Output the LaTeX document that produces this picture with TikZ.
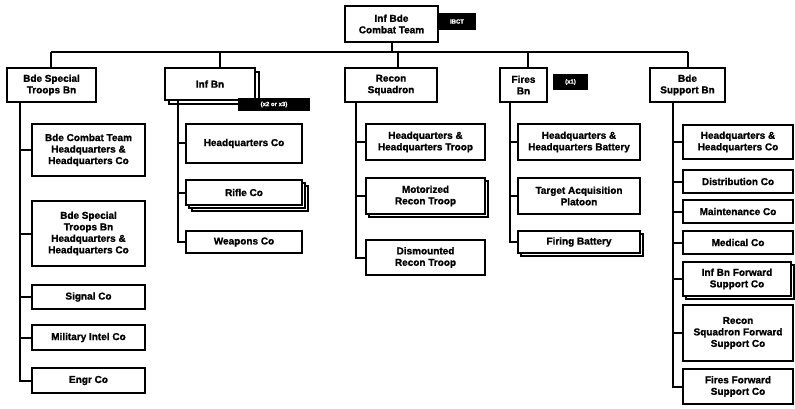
\documentclass[tikz,border=0pt]{standalone}
\usepackage{fontspec}
\setmainfont{Liberation Sans}[BoldFeatures={FakeBold=1.2}]
\newcommand{\bx}[7][]{%
  \node[box,#1,minimum width={#5-#3},minimum height={#6-#4}] (#2) at ({(#3+#5)/2},{(#4+#6)/2}) {#7};}
\newcommand{\shadowbx}[6]{%
  \node[box,minimum width={#4-#2},minimum height={#5-#3}] (#1) at ({(#2+#4)/2+#6},{(#3+#5)/2+#6}) {};}
\begin{document}
\begin{tikzpicture}[x=1pt,y=-1pt,
  box/.style={draw,line width=1.8pt,fill=white,align=center,inner sep=1pt,
    font=\bfseries\fontsize{10}{11.5}\selectfont},
  tag/.style={fill=black,text=white,inner sep=0pt,font=\bfseries\fontsize{6}{7}\selectfont},
  conn/.style={line width=2pt}]
\useasboundingbox (0,0) rectangle (795,409);
% top
\bx{top}{345}{6}{438}{42}{Inf Bde\\Combat Team}
\node[tag,minimum width=37,minimum height=17] (toptag) at (457,21.5) {IBCT};
\coordinate (busL) at (51,52);
\coordinate (busR) at (688,52);
\draw[conn] (busL) -- (busR);
\draw[conn] (top.south) -- (top.south |- busL);
% level 1
\bx{bstb}{7}{68}{96}{102}{Bde Special\\Troops Bn}
\shadowbx{infbnsh}{165}{68}{255}{100}{4}
\bx{infbn}{165}{68}{255}{100}{Inf Bn}
\node[tag,minimum width=72,minimum height=13] (infbntag) at (274,104.5) {(x2 or x3)};
\bx{recon}{345}{68}{437}{102}{Recon\\Squadron}
\bx{fires}{500}{68}{547}{102}{Fires\\Bn}
\node[tag,minimum width=35,minimum height=16] (firestag) at (570.5,82) {(x1)};
\bx{bsb}{650}{68}{725}{102}{Bde\\Support Bn}
\coordinate (d2) at (220,52);
\coordinate (d3) at (398,52);
\coordinate (d4) at (528,52);
\draw[conn] (busL) -- (busL |- bstb.north);
\draw[conn] (d2) -- (d2 |- infbn.north);
\draw[conn] (d3) -- (d3 |- recon.north);
\draw[conn] (d4) -- (d4 |- fires.north);
\draw[conn] (busR) -- (busR |- bsb.north);
% column 1
\bx{a1}{32}{124}{145}{176}{Bde Combat Team\\Headquarters \&\\Headquarters Co}
\bx{a2}{32}{201}{145}{266}{Bde Special\\Troops Bn\\Headquarters \&\\Headquarters Co}
\bx{a3}{32}{285}{145}{309}{Signal Co}
\bx{a4}{32}{325}{145}{350}{Military Intel Co}
\bx{a5}{32}{368}{145}{393}{Engr Co}
\coordinate (s1) at (20,0);
\draw[conn] (s1 |- bstb.south) |- (a5.west);
\foreach \n in {a1,a2,a3,a4} \draw[conn] (s1 |- \n.west) -- (\n.west);
% column 2
\bx{b1}{186}{124}{302}{163}{Headquarters Co}
\shadowbx{b2sh2}{186}{180}{302}{205}{6}
\shadowbx{b2sh1}{186}{180}{302}{205}{3}
\bx{b2}{186}{180}{302}{205}{Rifle Co}
\bx{b3}{186}{231}{302}{253}{Weapons Co}
\coordinate (s2) at (178,0);
\draw[conn] (s2 |- infbn.south) |- (b3.west);
\foreach \n in {b1,b2} \draw[conn] (s2 |- \n.west) -- (\n.west);
% column 3
\bx{c1}{366}{124}{485}{160}{Headquarters \&\\Headquarters Troop}
\shadowbx{c2sh}{366}{178}{485}{214}{3}
\bx{c2}{366}{178}{485}{214}{Motorized\\Recon Troop}
\bx{c3}{366}{240}{485}{275}{Dismounted\\Recon Troop}
\coordinate (s3) at (356,0);
\draw[conn] (s3 |- recon.south) |- (c3.west);
\foreach \n in {c1,c2} \draw[conn] (s3 |- \n.west) -- (\n.west);
% column 4
\bx{e1}{518}{124}{640}{160}{Headquarters \&\\Headquarters Battery}
\bx{e2}{518}{178}{640}{214}{Target Acquisition\\Platoon}
\shadowbx{e3sh}{518}{231}{640}{253}{3}
\bx{e3}{518}{231}{640}{253}{Firing Battery}
\coordinate (s4) at (510,0);
\draw[conn] (s4 |- fires.south) |- (e3.west);
\foreach \n in {e1,e2} \draw[conn] (s4 |- \n.west) -- (\n.west);
% column 5
\bx{f1}{683}{125}{793}{159}{Headquarters \&\\Headquarters Co}
\bx{f2}{683}{170}{793}{193}{Distribution Co}
\bx{f3}{683}{200}{793}{223}{Maintenance Co}
\bx{f4}{683}{231}{793}{254}{Medical Co}
\shadowbx{f5sh}{683}{262}{791}{296}{3}
\bx{f5}{683}{262}{791}{296}{Inf Bn Forward\\Support Co}
\bx{f6}{683}{305}{793}{361}{Recon\\Squadron Forward\\Support Co}
\bx{f7}{683}{369}{793}{404}{Fires Forward\\Support Co}
\coordinate (s5) at (673,0);
\draw[conn] (s5 |- bsb.south) |- (f7.west);
\foreach \n in {f1,f2,f3,f4,f5,f6} \draw[conn] (s5 |- \n.west) -- (\n.west);
\end{tikzpicture}
\end{document}
